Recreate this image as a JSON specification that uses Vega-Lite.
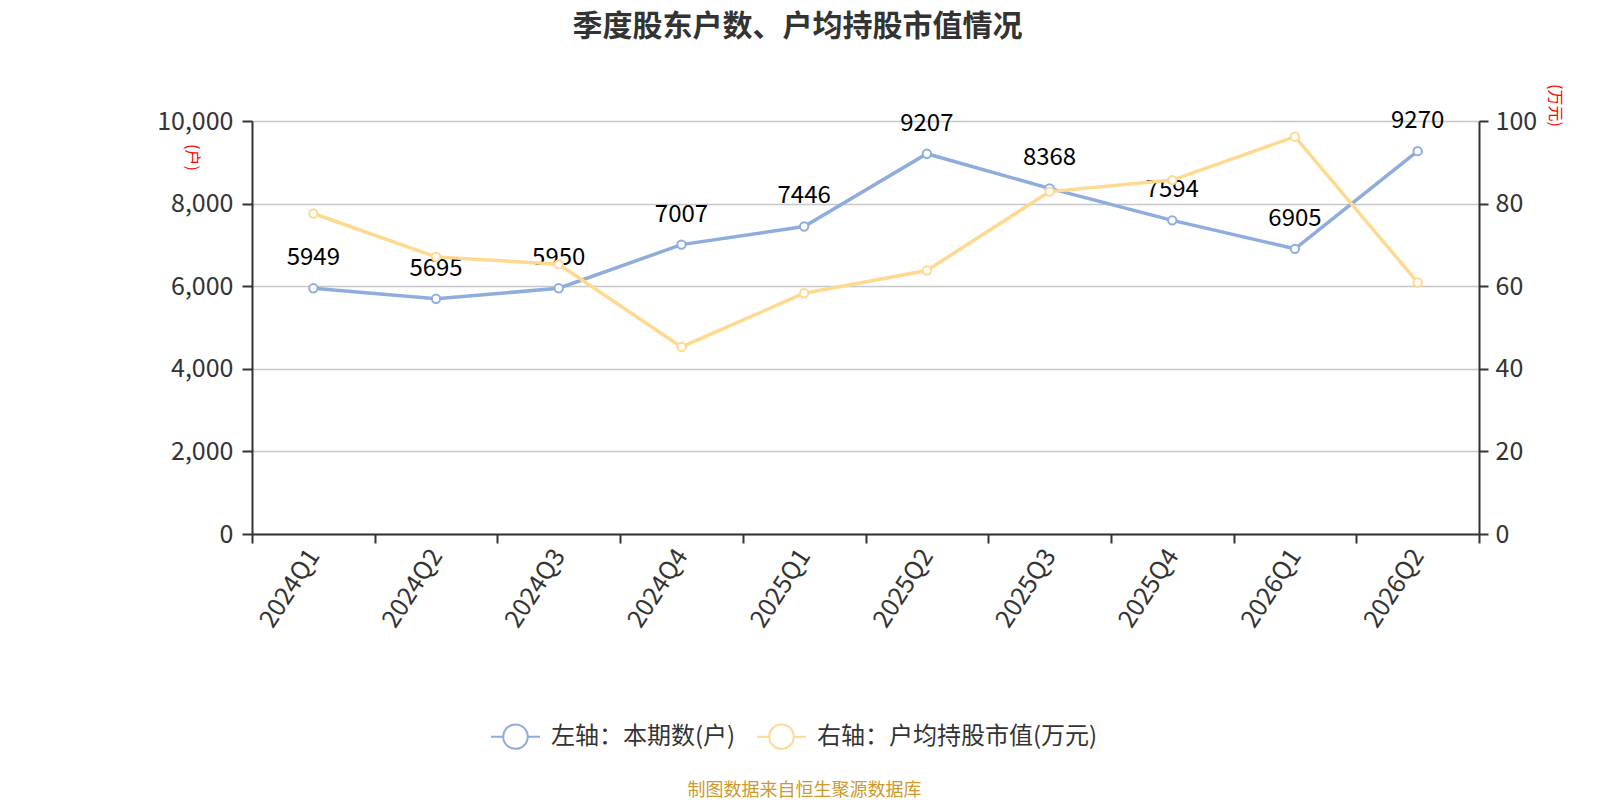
{
  "$schema": "https://vega.github.io/schema/vega-lite/v6.json",
  "autosize": "none",
  "padding": {"left": 252, "top": 121, "right": 121, "bottom": 266},
  "width": 1227,
  "height": 413,
  "background": "white",
  "title": {
    "text": "季度股东户数、户均持股市值情况",
    "fontSize": 30,
    "fontWeight": "bold",
    "color": "#333333",
    "font": "Noto Sans CJK SC",
    "anchor": "middle",
    "frame": "group",
    "dx": -68,
    "offset": 42
  },
  "data": {
    "values": [
      {"q": "2024Q1", "hh": 5949, "mv": 77.6},
      {"q": "2024Q2", "hh": 5695, "mv": 67.1},
      {"q": "2024Q3", "hh": 5950, "mv": 65.3},
      {"q": "2024Q4", "hh": 7007, "mv": 45.3},
      {"q": "2025Q1", "hh": 7446, "mv": 58.3},
      {"q": "2025Q2", "hh": 9207, "mv": 63.8},
      {"q": "2025Q3", "hh": 8368, "mv": 82.9},
      {"q": "2025Q4", "hh": 7594, "mv": 85.7},
      {"q": "2026Q1", "hh": 6905, "mv": 96.2},
      {"q": "2026Q2", "hh": 9270, "mv": 60.9}
    ]
  },
  "encoding": {
    "x": {
      "field": "q",
      "type": "nominal",
      "sort": null,
      "scale": {"type": "band", "paddingInner": 0, "paddingOuter": 0},
      "axis": {
        "title": "制图数据来自恒生聚源数据库",
        "titleColor": "#CC9A2E",
        "titleFontSize": 18,
        "titleFontWeight": "normal",
        "titleFont": "Noto Sans CJK SC",
        "titleX": 552,
        "titleY": 256,
        "titleAlign": "center",
        "titleBaseline": "middle",
        "labelAngle": -57,
        "labelFontSize": 25,
        "labelColor": "#333333",
        "labelFont": "Noto Sans CJK SC",
        "labelPadding": 8,
        "tickBand": "extent",
        "tickSize": 9,
        "tickWidth": 2,
        "tickColor": "#333333",
        "domainColor": "#333333",
        "domainWidth": 2,
        "grid": false
      }
    }
  },
  "layer": [
    {
      "layer": [
        {
          "mark": {"type": "line", "strokeWidth": 3.5},
          "encoding": {
            "y": {
              "field": "hh",
              "type": "quantitative",
              "scale": {"domain": [0, 10000]},
              "axis": {
                "title": "(户)",
                "titleColor": "#FF0000",
                "titleFontSize": 16,
                "titleFontWeight": "normal",
                "titleFont": "Noto Sans CJK SC",
                "titleAngle": 90,
                "titleX": -61,
                "titleY": 36,
                "titleAlign": "center",
                "titleBaseline": "middle",
                "values": [0, 2000, 4000, 6000, 8000, 10000],
                "labelExpr": "format(datum.value, ',')",
                "labelFontSize": 25,
                "labelColor": "#333333",
                "labelFont": "Noto Sans CJK SC",
                "labelPadding": 9,
                "tickSize": 10,
                "tickWidth": 2,
                "tickColor": "#333333",
                "domainColor": "#333333",
                "domainWidth": 2,
                "grid": true,
                "gridColor": "#C8C8C8",
                "gridWidth": 1.5
              }
            },
            "color": {"datum": "左轴：本期数(户)"}
          }
        },
        {
          "mark": {"type": "point", "filled": false, "fill": "white", "fillOpacity": 1, "opacity": 1, "size": 70, "strokeWidth": 2},
          "encoding": {
            "y": {"field": "hh", "type": "quantitative"},
            "color": {"datum": "左轴：本期数(户)"}
          }
        },
        {
          "mark": {"type": "text", "dy": -30, "fontSize": 24, "color": "#000000", "font": "Noto Sans CJK SC"},
          "encoding": {
            "y": {"field": "hh", "type": "quantitative"},
            "text": {"field": "hh", "type": "nominal"}
          }
        }
      ]
    },
    {
      "layer": [
        {
          "mark": {"type": "line", "strokeWidth": 3.5},
          "encoding": {
            "y": {
              "field": "mv",
              "type": "quantitative",
              "scale": {"domain": [0, 100]},
              "axis": {
                "orient": "right",
                "title": "(万元)",
                "titleColor": "#FF0000",
                "titleFontSize": 16,
                "titleFontWeight": "normal",
                "titleFont": "Noto Sans CJK SC",
                "titleAngle": 90,
                "titleX": 75,
                "titleY": -16,
                "titleAlign": "center",
                "titleBaseline": "middle",
                "values": [0, 20, 40, 60, 80, 100],
                "labelFontSize": 25,
                "labelColor": "#333333",
                "labelFont": "Noto Sans CJK SC",
                "labelPadding": 7,
                "tickSize": 9,
                "tickWidth": 2,
                "tickColor": "#333333",
                "domainColor": "#333333",
                "domainWidth": 2,
                "grid": false
              }
            },
            "color": {"datum": "右轴：户均持股市值(万元)"}
          }
        },
        {
          "mark": {"type": "point", "filled": false, "fill": "white", "fillOpacity": 1, "opacity": 1, "size": 70, "strokeWidth": 2},
          "encoding": {
            "y": {"field": "mv", "type": "quantitative"},
            "color": {"datum": "右轴：户均持股市值(万元)"}
          }
        }
      ]
    }
  ],
  "resolve": {"scale": {"y": "independent"}},
  "config": {
    "view": {"stroke": null},
    "font": "Noto Sans CJK SC",
    "range": {"category": ["#8FADDC", "#FFD98F"]},
    "legend": {
      "orient": "none",
      "legendX": 238,
      "legendY": 590,
      "direction": "horizontal",
      "title": null,
      "labelFontSize": 24,
      "labelColor": "#333333",
      "labelFont": "Noto Sans CJK SC",
      "labelLimit": 500,
      "labelOffset": 10,
      "columnPadding": 17,
      "symbolType": "M-1,0L-0.5,0M0.5,0L1,0M0.5,0A0.5,0.5,0,1,1,-0.5,0A0.5,0.5,0,1,1,0.5,0",
      "symbolSize": 2400,
      "symbolStrokeWidth": 2,
      "symbolFillColor": "white"
    }
  }
}
